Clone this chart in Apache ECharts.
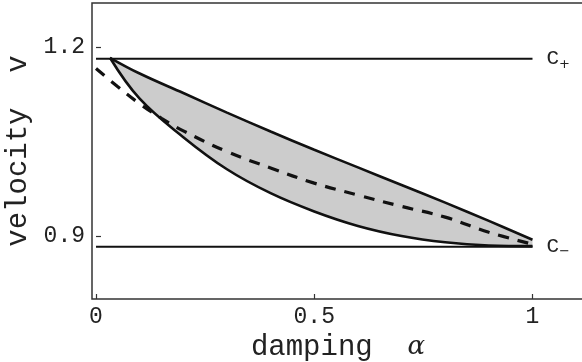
<!DOCTYPE html>
<html>
<head>
<meta charset="utf-8">
<script src="https://cdn.jsdelivr.net/npm/echarts@6/dist/echarts.min.js"></script>
<style>
html,body{margin:0;padding:0;background:#fff;}
#c{width:582px;height:362px;}
</style>
</head>
<body>
<div id="c"></div>
<script>
// damping grid shared by the two boundary curves
var alphaGrid = [0.032, 0.1, 0.2, 0.3, 0.4, 0.5, 0.6, 0.7, 0.8, 0.9, 1.0];
var upperV    = [1.183, 1.158, 1.127, 1.096, 1.066, 1.037, 1.009, 0.981, 0.953, 0.924, 0.894];
var lowerV    = [1.183, 1.118, 1.057, 1.006, 0.968, 0.939, 0.916, 0.900, 0.890, 0.885, 0.884];
// dashed curve
var dashAlpha = [0, 0.05, 0.1, 0.15, 0.2, 0.3, 0.4, 0.5, 0.6, 0.7, 0.8, 0.9, 1.0];
var dashV     = [1.166, 1.137, 1.110, 1.087, 1.067, 1.034, 1.008, 0.984, 0.965, 0.947, 0.930, 0.906, 0.887];
// horizontal reference levels
var cPlus = 1.1815;
var cMinus = 0.883;
var cAlpha = [0, 1];
// ticks
var xTicks = [0, 0.5, 1];
var xTickLabels = ['0', '0.5', '1'];
var yTicks = [0.9, 1.2];
var yTickLabels = ['0.9', '1.2'];

var mono = '"Liberation Mono", "Courier New", monospace';

var upperData = alphaGrid.map(function (a, i) { return [a, upperV[i]]; });
var lowerData = alphaGrid.map(function (a, i) { return [a, lowerV[i]]; });
var dashData = dashAlpha.map(function (a, i) { return [a, dashV[i]]; });
var cpData = cAlpha.map(function (a) { return [a, cPlus]; });
var cmData = cAlpha.map(function (a) { return [a, cMinus]; });

var chart = echarts.init(document.getElementById('c'), null, {renderer: 'canvas'});
chart.setOption({
  animation: false,
  backgroundColor: '#fff',
  grid: {left: 92, top: 3, right: -2, bottom: 63, show: true, borderColor: '#333', borderWidth: 1.5,
         backgroundColor: 'transparent', containLabel: false, outerBoundsMode: 'none'},
  xAxis: {
    type: 'value', min: -0.0092, max: 1.118,
    axisLine: {show: false},
    splitLine: {show: false},
    axisTick: {show: true, inside: true, length: 5, customValues: xTicks, lineStyle: {color: '#333', width: 1.2}},
    axisLabel: {
      customValues: xTicks, margin: 6,
      formatter: function (v) { var i = xTicks.indexOf(v); return i >= 0 ? xTickLabels[i] : ''; },
      fontFamily: mono, fontSize: 23, color: '#222'
    },
    name: '{a|damping  }{b|α}', nameLocation: 'middle', nameGap: 27,
    nameTextStyle: {
      rich: {
        a: {fontFamily: mono, fontSize: 29, color: '#222'},
        b: {fontFamily: '"DejaVu Serif", serif', fontStyle: 'italic', fontSize: 26, color: '#222'}
      }
    }
  },
  yAxis: {
    type: 'value', min: 0.8, max: 1.27,
    axisLine: {show: false},
    splitLine: {show: false},
    axisTick: {show: true, inside: true, length: 5, customValues: yTicks, lineStyle: {color: '#333', width: 1.2}},
    axisLabel: {
      customValues: yTicks, margin: 7,
      formatter: function (v) { var i = yTicks.indexOf(v); return i >= 0 ? yTickLabels[i] : ''; },
      fontFamily: mono, fontSize: 23, color: '#222'
    },
    name: 'velocity  v', nameLocation: 'middle', nameGap: 57,
    nameTextStyle: {fontFamily: mono, fontSize: 29, color: '#222'}
  },
  series: [
    {
      type: 'line', name: 'upper', data: upperData, smooth: 0.4, z: 2,
      showSymbol: false, lineStyle: {color: '#111', width: 2.6},
      areaStyle: {color: '#cccccc', opacity: 1, origin: cMinus}
    },
    {
      type: 'line', name: 'lower', data: lowerData, smooth: 0.4, z: 3,
      showSymbol: false, lineStyle: {color: '#111', width: 2.6},
      areaStyle: {color: '#ffffff', opacity: 1, origin: cMinus}
    },
    {
      type: 'line', name: 'cplus', data: cpData, showSymbol: false, z: 4,
      lineStyle: {color: '#111', width: 2},
      endLabel: {
        show: true, distance: 14, formatter: '{c|C}{s|+}',
        rich: {
          c: {fontFamily: mono, fontSize: 21, color: '#222'},
          s: {fontFamily: '"DejaVu Sans", sans-serif', fontSize: 13, color: '#222', padding: [12, 0, 0, 0]}
        }
      }
    },
    {
      type: 'line', name: 'cminus', data: cmData, showSymbol: false, z: 4,
      lineStyle: {color: '#111', width: 2.2},
      endLabel: {
        show: true, distance: 14, formatter: '{c|C}{s|−}',
        rich: {
          c: {fontFamily: mono, fontSize: 21, color: '#222'},
          s: {fontFamily: '"DejaVu Sans", sans-serif', fontSize: 13, color: '#222', padding: [10, 0, 0, 0]}
        }
      }
    },
    {
      type: 'line', name: 'dashed', data: dashData, smooth: 0.4, showSymbol: false, z: 5,
      lineStyle: {color: '#111', width: 3.2, type: [11, 9]}
    }
  ]
});
</script>
</body>
</html>
